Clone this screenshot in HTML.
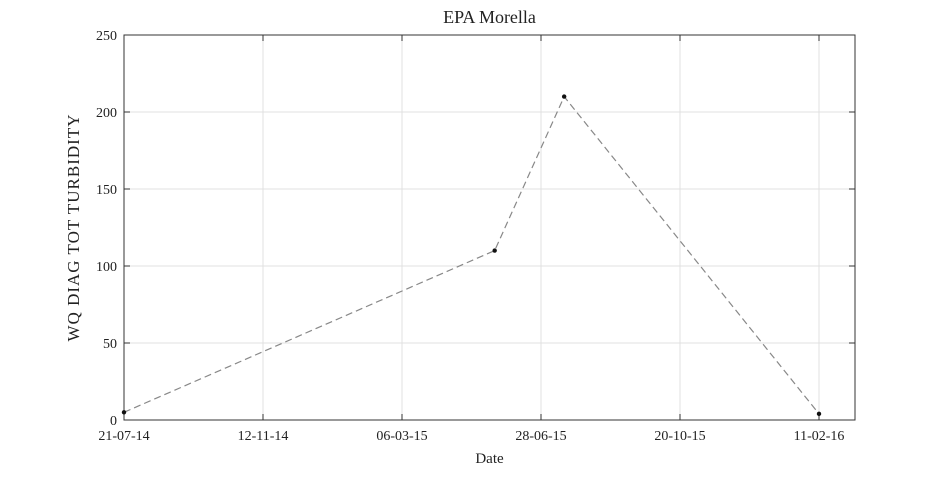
<!DOCTYPE html>
<html><head><meta charset="utf-8"><style>
body{margin:0;background:#fff;}
svg text{font-family:"Liberation Serif",serif;fill:#222;}
</style></head><body>
<svg id="chart" width="945" height="472"></svg>
<script>
const tickLabels = ["21-07-14","12-11-14","06-03-15","28-06-15","20-10-15","11-02-16"];
const tickDays = [0,114,228,342,456,570];
const pointDays = [0,304,361,570];
const pointValues = [5,110,210,4];
const yTicks = [0,50,100,150,200,250];

const L=124,R=855,T=35,B=420,maxDay=(R-L)/139*114;
const xs=d=>L+(d/maxDay)*(R-L);
const ys=v=>B-(v/250)*(B-T);
const svg=document.getElementById('chart');
const NS='http://www.w3.org/2000/svg';
function mk(tag,attrs,parent){const e=document.createElementNS(NS,tag);for(const k in attrs)e.setAttribute(k,attrs[k]);(parent||svg).appendChild(e);return e;}

yTicks.forEach((v,i)=>{
  const y=ys(v);
  const g=mk('line',{x1:L,x2:R,y1:y,y2:y,stroke:'#e0e0e0','stroke-width':1});
  
  
  const t=mk('text',{x:L-7,y:y+5,'text-anchor':'end','font-size':14});
  t.textContent=v;
  
  
  mk('line',{x1:L,x2:L+6,y1:y,y2:y,stroke:'#333'});
  mk('line',{x1:R,x2:R-6,y1:y,y2:y,stroke:'#333'});
});
tickDays.forEach((d,i)=>{
  const x=xs(d);
  const g=mk('line',{x1:x,x2:x,y1:T,y2:B,stroke:'#e0e0e0','stroke-width':1});
  
  
  mk('line',{x1:x,x2:x,y1:B,y2:B-6,stroke:'#333'});
  mk('line',{x1:x,x2:x,y1:T,y2:T+6,stroke:'#333'});
  const t=mk('text',{x:x,y:B+20,'text-anchor':'middle','font-size':14});
  t.textContent=tickLabels[i];
  
  
});
const frame=mk('rect',{x:L,y:T,width:R-L,height:B-T,fill:'none',stroke:'#333','stroke-width':1});



const pts=pointDays.map((d,i)=>xs(d)+','+ys(pointValues[i])).join(' ');
const line=mk('polyline',{points:pts,fill:'none',stroke:'#888','stroke-width':1.2,'stroke-dasharray':'7,4'});


pointDays.forEach((d,i)=>{
  const c=mk('circle',{cx:xs(d),cy:ys(pointValues[i]),r:2.2,fill:'#111'});
  
  
});

const title=mk('text',{x:(L+R)/2,y:23,'text-anchor':'middle','font-size':18});
title.textContent='EPA Morella';


const xl=mk('text',{x:(L+R)/2,y:463,'text-anchor':'middle','font-size':15});
xl.textContent='Date';


const yl=mk('text',{x:0,y:0,'text-anchor':'middle','font-size':17,'letter-spacing':1,transform:'translate(79,'+((T+B)/2)+') rotate(-90)'});
yl.textContent='WQ DIAG TOT TURBIDITY';


</script>
</body></html>
